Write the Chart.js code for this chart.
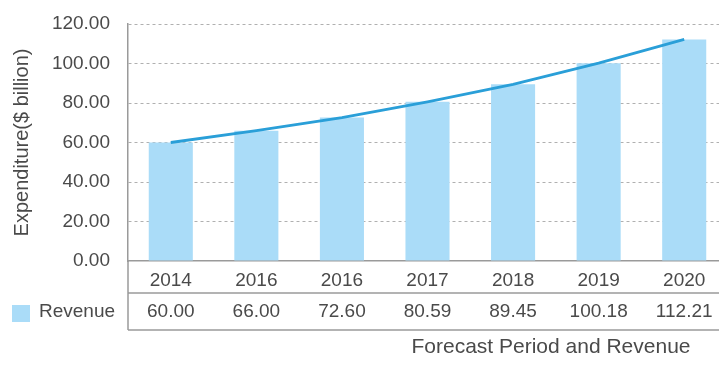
<!DOCTYPE html>
<html>
<head>
<meta charset="utf-8">
<script src="https://cdn.jsdelivr.net/npm/chart.js@4.4.1/dist/chart.umd.min.js"></script>
<style>
  html, body { margin: 0; padding: 0; background: #fff; overflow: hidden; }
  #wrap { position: relative; width: 730px; height: 366px; }
</style>
</head>
<body>
<div id="wrap"><canvas id="revenueChart"></canvas></div>
<script>
// 연도 / 매출 데이터
const years = ['2014', '2016', '2016', '2017', '2018', '2019', '2020'];
const revenue = [60.00, 66.00, 72.60, 80.59, 89.45, 100.18, 112.21];
const seriesName = 'Revenue';
const yTitle = 'Expenditure($ billion)';
const xTitle = 'Forecast Period and Revenue';

const barColor = '#aadcf8';
const lineColor = '#2a9fd8';
const textColor = '#4a4a4a';
const tableLine = '#9a9a9a';
const FONT = 'Arial, "Liberation Sans", sans-serif';

// 아래쪽 데이터 테이블 + 범례 + x축 제목 그리기
const dataTablePlugin = {
    id: 'dataTable',
    afterDraw(chart) {
        const ctx = chart.ctx;
        const x = chart.scales.x;
        const area = chart.chartArea;
        const right = chart.width;

        ctx.save();
        // 테이블 선
        ctx.strokeStyle = tableLine;
        ctx.lineWidth = 1.5;
        ctx.beginPath();
        ctx.moveTo(area.left, 293); ctx.lineTo(right, 293);
        ctx.moveTo(area.left, 330); ctx.lineTo(right, 330);
        ctx.moveTo(area.left, area.bottom); ctx.lineTo(area.left, 330);
        ctx.stroke();

        // 값 행
        ctx.fillStyle = textColor;
        ctx.font = '19px ' + FONT;
        ctx.textAlign = 'center';
        ctx.textBaseline = 'middle';
        revenue.forEach((v, i) => {
            ctx.fillText(v.toFixed(2), x.getPixelForValue(i), 312);
        });

        // 범례 박스
        ctx.fillStyle = barColor;
        ctx.fillRect(12, 305, 18, 17);
        ctx.fillStyle = textColor;
        ctx.textAlign = 'left';
        ctx.fillText(seriesName, 39, 312);

        // x축 제목
        ctx.font = '21px ' + FONT;
        ctx.textAlign = 'center';
        ctx.fillText(xTitle, 551, 347);
        ctx.restore();
    }
};

const ctx = document.getElementById('revenueChart').getContext('2d');
new Chart(ctx, {
    data: {
        labels: years,
        datasets: [{
            type: 'line',
            label: seriesName,
            data: revenue,
            borderColor: lineColor,
            borderWidth: 2.8,
            pointRadius: 0,
            tension: 0,
            order: 0
        }, {
            type: 'bar',
            label: seriesName,
            data: revenue,
            backgroundColor: barColor,
            barPercentage: 0.515,
            categoryPercentage: 1.0,
            order: 1
        }]
    },
    options: {
        responsive: true,
        maintainAspectRatio: false,
        animation: false,
        layout: { padding: { top: 24, right: 3, left: 0, bottom: 0 } },
        plugins: {
            legend: { display: false },
            tooltip: { enabled: false }
        },
        scales: {
            x: {
                grid: { display: false, drawTicks: false },
                border: { display: true, color: tableLine, width: 1.5 },
                ticks: {
                    color: textColor,
                    font: { size: 19, family: FONT },
                    padding: 8,
                    maxRotation: 0,
                    autoSkip: false
                },
                afterFit(scale) { scale.height = 105; }
            },
            y: {
                min: 0,
                max: 120,
                ticks: {
                    stepSize: 20,
                    color: textColor,
                    font: { size: 19, family: FONT },
                    padding: 2,
                    callback: v => v.toFixed(2)
                },
                grid: {
                    color: ctx => ctx.tick && ctx.tick.value === 0 ? 'rgba(0,0,0,0)' : '#b0b0b0',
                    lineWidth: 1,
                    drawTicks: true,
                    tickLength: 16,
                    tickColor: 'rgba(0,0,0,0)'
                },
                border: { display: true, color: tableLine, width: 1.5, dash: [3, 3] },
                title: {
                    display: true,
                    text: yTitle,
                    color: textColor,
                    font: { size: 20, family: FONT },
                    padding: { top: 10, bottom: 0 }
                },
                afterFit(scale) { scale.width = 128; }
            }
        }
    },
    plugins: [dataTablePlugin]
});
</script>
</body>
</html>
